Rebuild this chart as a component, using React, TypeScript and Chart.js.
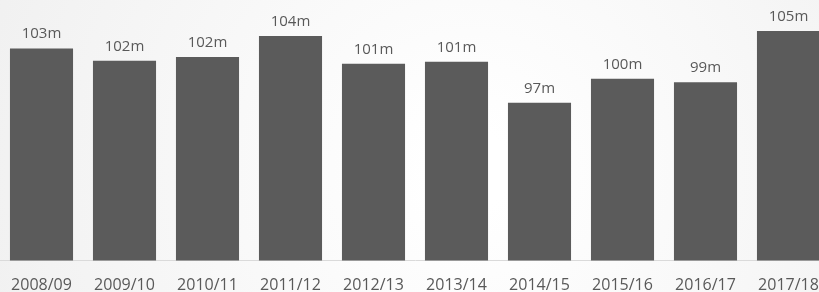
import React, { useEffect, useRef } from "react";
import { Chart, registerables } from "chart.js";

Chart.register(...registerables);

const categories = [
  "2008/09", "2009/10", "2010/11", "2011/12", "2012/13",
  "2013/14", "2014/15", "2015/16", "2016/17", "2017/18",
];
// values in millions
const values = [102.9, 101.57, 101.96, 104.22, 101.25, 101.45, 97.06, 99.64, 99.27, 104.76];
const yMin = 80.1;
const yMax = 108.1;

const FONT = "'Open Sans', 'Noto Sans', sans-serif";
const TEXT = "#595959";
const BAR = "#5b5b5b";

const bgPlugin = {
  id: "bg",
  beforeDraw(chart: any) {
    const { ctx, width, height } = chart;
    ctx.save();
    const g = ctx.createRadialGradient(470, 170, 40, 470, 170, 560);
    g.addColorStop(0, "#ffffff");
    g.addColorStop(1, "#efefef");
    ctx.fillStyle = g;
    ctx.fillRect(0, 0, width, height);
    ctx.restore();
  },
};

const labelPlugin = {
  id: "valueLabels",
  afterDatasetsDraw(chart: any) {
    const { ctx } = chart;
    const meta = chart.getDatasetMeta(0);
    ctx.save();
    ctx.font = `15px ${FONT}`;
    ctx.fillStyle = TEXT;
    ctx.textAlign = "center";
    ctx.textBaseline = "alphabetic";
    meta.data.forEach((el: any, i: number) => {
      const v = chart.data.datasets[0].data[i] as number;
      ctx.fillText(`${Math.round(v)}m`, el.x, el.y - 10);
    });
    ctx.restore();
  },
};

export default function App() {
  const ref = useRef<HTMLCanvasElement | null>(null);
  useEffect(() => {
    if (!ref.current) return;
    const chart = new Chart(ref.current, {
      type: "bar",
      data: {
        labels: categories,
        datasets: [
          {
            data: values,
            backgroundColor: BAR,
            borderWidth: 0,
            barPercentage: 0.76,
            categoryPercentage: 1,
          },
        ],
      },
      options: {
        animation: false,
        responsive: false,
        maintainAspectRatio: false,
        layout: { padding: 0 },
        plugins: { legend: { display: false }, tooltip: { enabled: false } },
        scales: {
          x: {
            grid: { display: false, drawTicks: true, tickLength: 17.5 },
            border: { display: true, color: "#dadada", width: 1 },
            ticks: {
              color: TEXT,
              font: { family: FONT, size: 16, lineHeight: 0.875 },
              padding: 0,
              maxRotation: 0,
              autoSkip: false,
            },
          },
          y: { display: false, min: yMin, max: yMax },
        },
      },
      plugins: [bgPlugin, labelPlugin],
    });
    return () => chart.destroy();
  }, []);
  return (
    <div style={{ position: "fixed", left: 0, top: 0, width: 819, height: 292, overflow: "hidden", background: "#fff" }}>
      <canvas ref={ref} width={830} height={292} style={{ display: "block", width: 830, height: 292 }} />
    </div>
  );
}
